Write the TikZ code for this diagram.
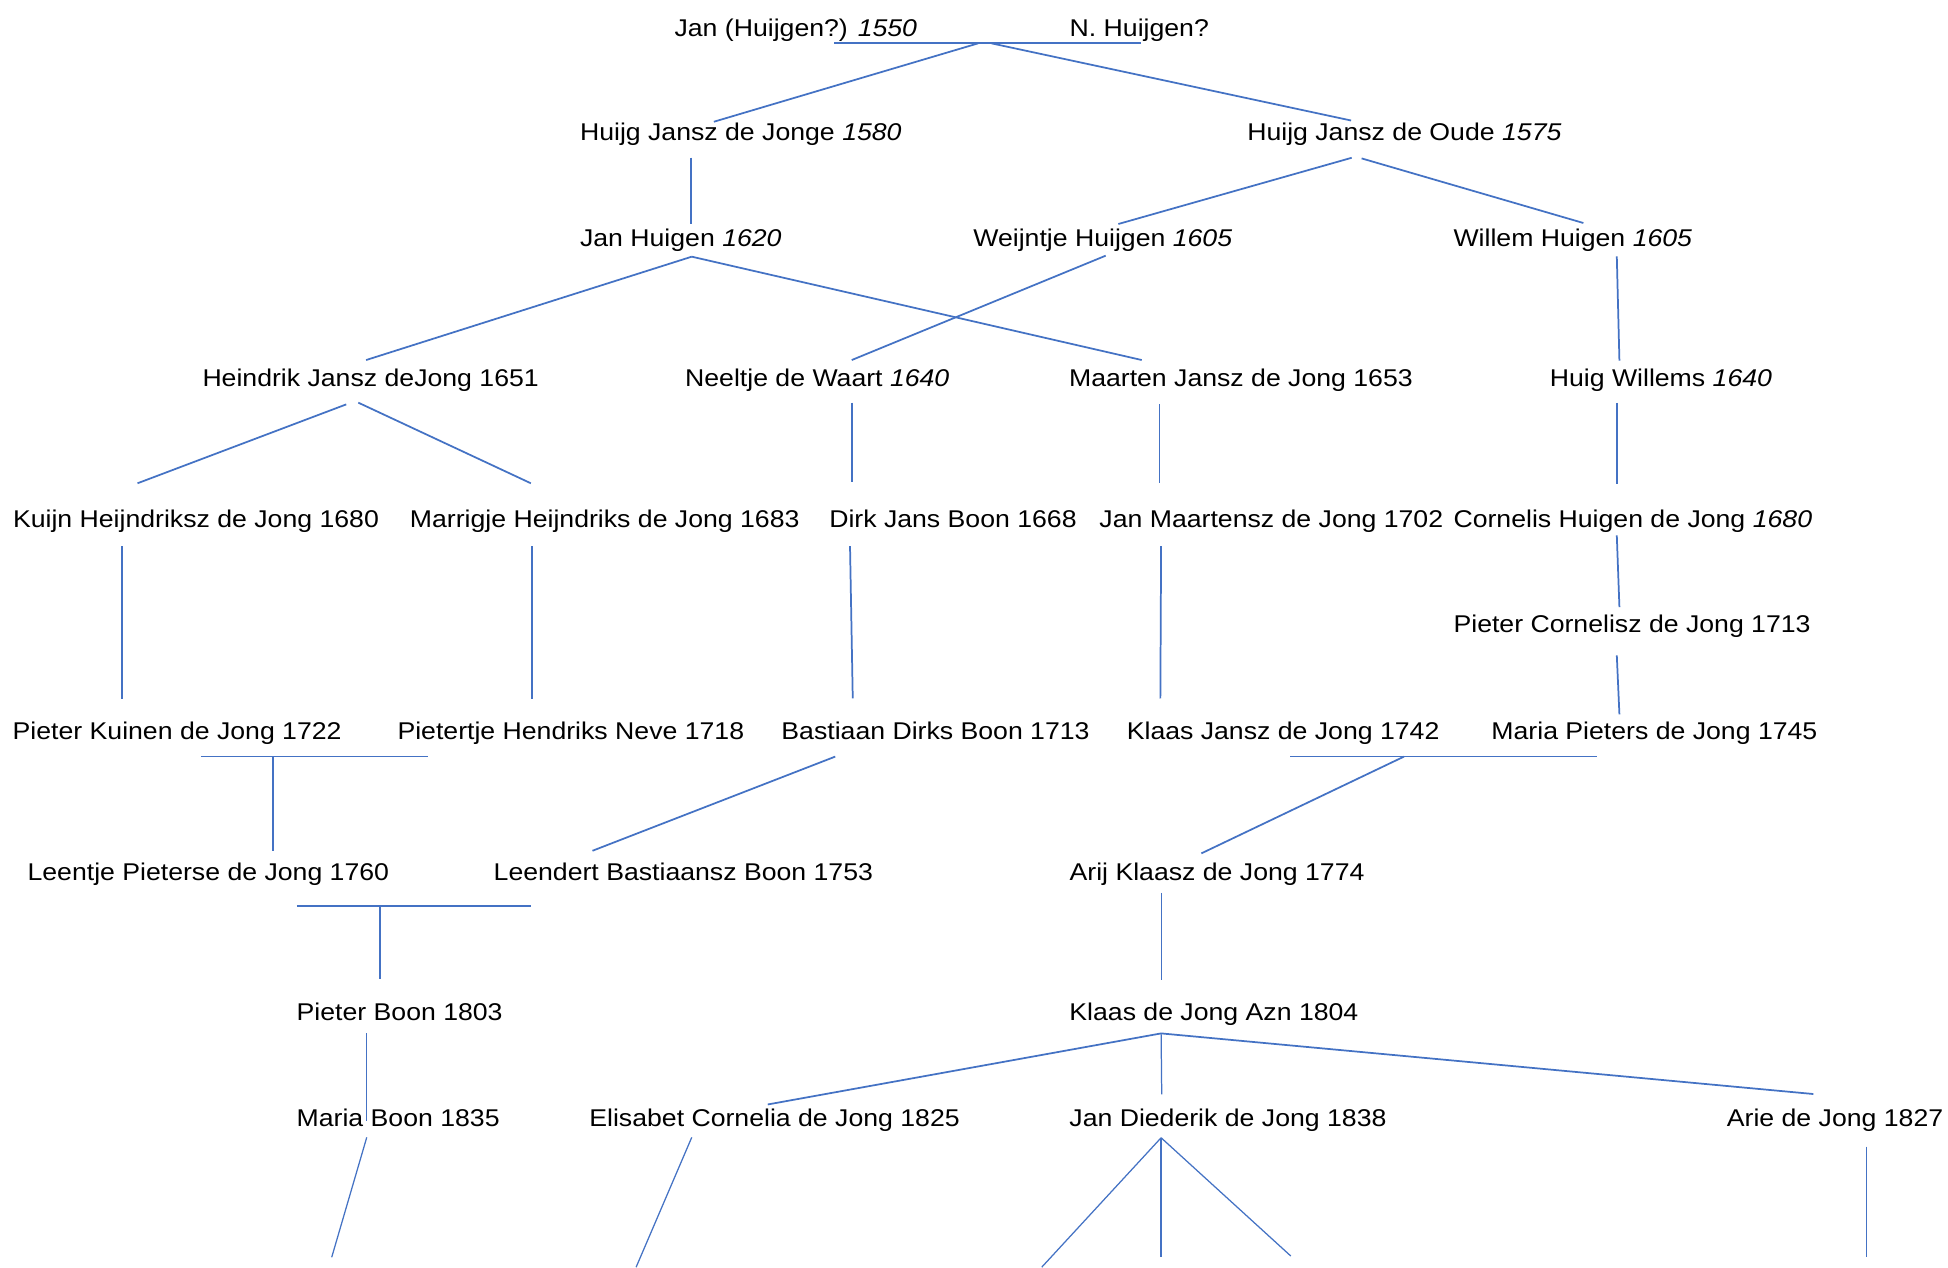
\documentclass[tikz,border=0pt]{standalone}
\usepackage{fontspec}
\setmainfont{Liberation Sans}[FakeStretch=1.1]
\definecolor{lc}{RGB}{68,114,196}
\tikzset{
  lbl/.style={anchor=base west, inner sep=0pt, outer sep=0pt, font=\fontsize{19.5}{23}\selectfont, text=black},
  conn/.style={draw=lc, line width=1.4pt},
  fine conn/.style={draw=lc, line width=1.0pt}
}
\newcommand{\yr}[1]{\textit{#1}}
\begin{document}
\begin{tikzpicture}[x=1pt,y=-1pt]
\useasboundingbox[fill=white] (0,0) rectangle (1568,1020);
% ---------- persons ----------
\node[lbl] (jan) at (543,29.3) {Jan (Huijgen?) \yr{1550}};
\node[lbl] (nhu) at (861,29.3) {N. Huijgen?};
\node[lbl] (hjj) at (466.9,113.3) {Huijg Jansz de Jonge \yr{1580}};
\node[lbl] (hjo) at (1004,113.3) {Huijg Jansz de Oude \yr{1575}};
\node[lbl] (jhu) at (466.9,198.5) {Jan Huigen \yr{1620}};
\node[lbl] (wei) at (783.5,198.5) {Weijntje Huijgen \yr{1605}};
\node[lbl] (wil) at (1170,198.5) {Willem Huigen \yr{1605}};
\node[lbl] (hei) at (163,311.5) {Heindrik Jansz deJong 1651};
\node[lbl] (nee) at (551.5,311.5) {Neeltje de Waart \yr{1640}};
\node[lbl] (maa) at (860.5,311.5) {Maarten Jansz de Jong 1653};
\node[lbl] (hwi) at (1247.5,311.5) {Huig Willems \yr{1640}};
\node[lbl] (kui) at (10.5,424.5) {Kuijn Heijndriksz de Jong 1680};
\node[lbl] (mar) at (330,424.5) {Marrigje Heijndriks de Jong 1683};
\node[lbl] (dir) at (667.5,424.5) {Dirk Jans Boon 1668};
\node[lbl] (jma) at (885,424.5) {Jan Maartensz de Jong 1702};
\node[lbl] (cor) at (1170,424.5) {Cornelis Huigen de Jong \yr{1680}};
\node[lbl] (pco) at (1170,509.5) {Pieter Cornelisz de Jong 1713};
\node[lbl] (pku) at (10.2,595.5) {Pieter Kuinen de Jong 1722};
\node[lbl] (phn) at (320,595.5) {Pietertje Hendriks Neve 1718};
\node[lbl] (bas) at (629,595.5) {Bastiaan Dirks Boon 1713};
\node[lbl] (kja) at (907,595.5) {Klaas Jansz de Jong 1742};
\node[lbl] (mpj) at (1200.5,595.5) {Maria Pieters de Jong 1745};
\node[lbl] (lee) at (22.2,708.5) {Leentje Pieterse de Jong 1760};
\node[lbl] (lbb) at (397.4,708.5) {Leendert Bastiaansz Boon 1753};
\node[lbl] (ari) at (861,708.5) {Arij Klaasz de Jong 1774};
\node[lbl] (pbo) at (238.8,821.6) {Pieter Boon 1803};
\node[lbl] (kaz) at (860.8,821.6) {Klaas de Jong Azn 1804};
\node[lbl] (mbo) at (238.8,907) {Maria Boon 1835};
\node[lbl] (eli) at (474.4,907) {Elisabet Cornelia de Jong 1825};
\node[lbl] (jdj) at (860.8,907) {Jan Diederik de Jong 1838};
\node[lbl] (arj) at (1390,907) {Arie de Jong 1827};
% ---------- connection points ----------
\coordinate (m1a) at (671.7,34.9);  \coordinate (m1b) at (918.5,34.9);
\coordinate (m1l) at (787.3,34.9);  \coordinate (m1r) at (798.1,34.9);
\coordinate (hjjT) at (574.6,98);   \coordinate (hjoT) at (1087.5,97);
\coordinate (hjjB) at (556,126.9);  \coordinate (jhuT) at (556,180.3);
\coordinate (hjoBl) at (1088,127);  \coordinate (weiT) at (900.2,180.3);
\coordinate (hjoBr) at (1096,127.5); \coordinate (wilT) at (1274.5,179.5);
\coordinate (jhuB) at (556.8,206.6);
\coordinate (heiT) at (294.7,289.8); \coordinate (maaT) at (919,289.8);
\coordinate (weiB) at (890,205.8);  \coordinate (neeT) at (685.6,289.8);
\coordinate (wilB) at (1301.4,206.4); \coordinate (hwiT) at (1303.5,290.3);
\coordinate (heiBl) at (278.7,325.5); \coordinate (kuiT) at (110.7,389);
\coordinate (heiBr) at (288.4,324.1); \coordinate (marT) at (427.3,389);
\coordinate (neeB) at (685.6,324.1); \coordinate (dirT) at (685.6,387.7);
\coordinate (maaB) at (933.2,325.5); \coordinate (jmaT) at (933.2,389);
\coordinate (hwiB) at (1301.4,324.3); \coordinate (corT) at (1301.4,389.5);
\coordinate (kuiB) at (98,439.5);   \coordinate (pkuT) at (98,563);
\coordinate (marB) at (428,439.5);  \coordinate (phnT) at (428,563);
\coordinate (dirB) at (684.2,439.5); \coordinate (basT) at (686.4,562.1);
\coordinate (jmaB) at (934.6,439.5); \coordinate (kjaT) at (934,562.1);
\coordinate (corB) at (1301.4,431);  \coordinate (pcoT) at (1303.5,488.7);
\coordinate (pcoB) at (1301.4,527.6); \coordinate (mpjT) at (1303.5,575);
\coordinate (m2a) at (161.7,609);   \coordinate (m2b) at (344.3,609);
\coordinate (m2c) at (219.5,609);   \coordinate (leeT) at (219.5,684.8);
\coordinate (basB) at (672.3,609);  \coordinate (lbbT) at (476.9,684.8);
\coordinate (m3a) at (1038.6,609);  \coordinate (m3b) at (1285.3,609);
\coordinate (m3c) at (1130.1,609);  \coordinate (ariT) at (967,686.9);
\coordinate (m4a) at (238.9,729);   \coordinate (m4b) at (427.4,729);
\coordinate (m4c) at (306,729);     \coordinate (pboT) at (306,788.3);
\coordinate (ariB) at (934.9,718.6); \coordinate (kazT) at (934.9,789);
\coordinate (pboB) at (295.2,831.8); \coordinate (mboT) at (295.2,902);
\coordinate (kazB) at (934.6,831.8);
\coordinate (eliT) at (618,889);    \coordinate (jdjT) at (935.1,880.9);
\coordinate (arjT) at (1459.6,880.6);
\coordinate (mboB) at (295.2,915.5); \coordinate (mboE) at (267,1012);
\coordinate (eliB) at (556.8,915.5); \coordinate (eliE) at (512,1020);
\coordinate (jdjB) at (934.6,915.8);
\coordinate (jdjE1) at (838.5,1020); \coordinate (jdjE2) at (934.6,1011.6);
\coordinate (jdjE3) at (1039,1011);
\coordinate (arjB) at (1502.6,923);  \coordinate (arjE) at (1502.6,1011.6);
% ---------- connectors ----------
\draw[conn] (m1a) -- (m1b);
\draw[conn] (m1l) -- (hjjT);
\draw[conn] (m1r) -- (hjoT);
\draw[conn] (hjjB) -- (jhuT);
\draw[conn] (hjoBl) -- (weiT);
\draw[conn] (hjoBr) -- (wilT);
\draw[conn] (jhuB) -- (heiT);
\draw[conn] (jhuB) -- (maaT);
\draw[conn] (weiB) -- (neeT);
\draw[conn] (wilB) -- (hwiT);
\draw[conn] (heiBl) -- (kuiT);
\draw[conn] (heiBr) -- (marT);
\draw[conn] (neeB) -- (dirT);
\draw[conn] (maaB) -- (jmaT);
\draw[conn] (hwiB) -- (corT);
\draw[conn] (kuiB) -- (pkuT);
\draw[conn] (marB) -- (phnT);
\draw[conn] (dirB) -- (basT);
\draw[conn] (jmaB) -- (kjaT);
\draw[conn] (corB) -- (pcoT);
\draw[conn] (pcoB) -- (mpjT);
\draw[conn] (m2a) -- (m2b);
\draw[conn] (m2c) -- (leeT);
\draw[conn] (basB) -- (lbbT);
\draw[conn] (m3a) -- (m3b);
\draw[conn] (m3c) -- (ariT);
\draw[conn] (m4a) -- (m4b);
\draw[conn] (m4c) -- (pboT);
\draw[conn] (ariB) -- (kazT);
\draw[fine conn] (pboB) -- (mboT);
\draw[conn] (kazB) -- (eliT);
\draw[fine conn] (kazB) -- (jdjT);
\draw[conn] (kazB) -- (arjT);
\draw[fine conn] (mboB) -- (mboE);
\draw[fine conn] (eliB) -- (eliE);
\draw[fine conn] (jdjB) -- (jdjE1);
\draw[fine conn] (jdjB) -- (jdjE2);
\draw[fine conn] (jdjB) -- (jdjE3);
\draw[fine conn] (arjB) -- (arjE);
\end{tikzpicture}
\end{document}
